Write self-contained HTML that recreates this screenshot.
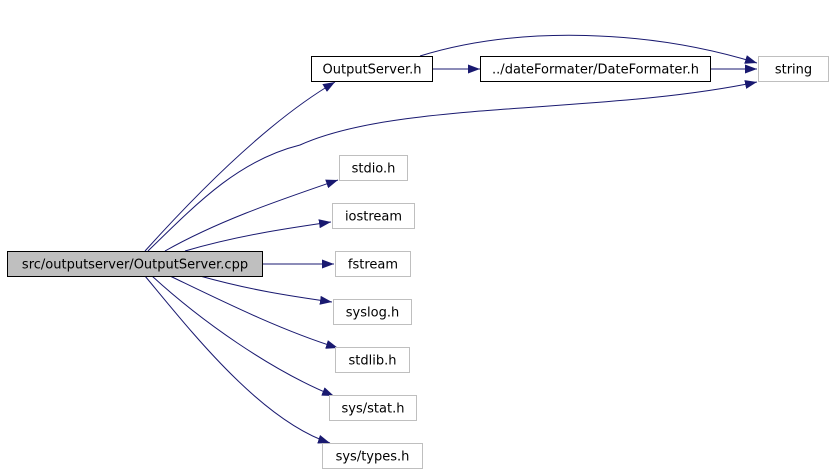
<!DOCTYPE html>
<html><head><meta charset="utf-8"><style>
html,body{margin:0;padding:0;background:#fff;}
svg{display:block;}
text{font-family:"DejaVu Sans","Liberation Sans",sans-serif;font-size:13px;fill:#000;}
</style></head><body>
<svg width="835" height="472" viewBox="0 0 835 472" xmlns="http://www.w3.org/2000/svg">
<defs>
<marker id="a" markerWidth="12" markerHeight="9" refX="12" refY="4.5" orient="auto" markerUnits="userSpaceOnUse">
<path d="M0,0 L12,4.5 L0,9 Z" fill="#191970"/>
</marker>
</defs>
<g fill="none" stroke="#191970" stroke-width="1" marker-end="url(#a)">
<path d="M145,251 C200,190 270,120 335,82"/>
<path d="M148,251 C200,200 240,160 300,145 C400,100 600,115 757,82"/>
<path d="M420,56 C520,25 650,30 757,63"/>
<path d="M432,69 L480,69"/>
<path d="M710,69 L757,69"/>
<path d="M165,251 C220,220 280,200 338,180"/>
<path d="M185,251 C240,235 290,228 331,222"/>
<path d="M262,264 L334,264"/>
<path d="M200,276 C250,290 290,296 332,302"/>
<path d="M170,276 C220,300 280,330 338,348"/>
<path d="M152,276 C200,320 270,370 334,396"/>
<path d="M145,276 C190,330 260,420 330,443"/>
</g>
<g stroke-width="1">
<rect x="7.5" y="251.5" width="255" height="25" fill="#bfbfbf" stroke="#000"/>
<rect x="311.5" y="56.5" width="121" height="25" fill="#fff" stroke="#000"/>
<rect x="480.5" y="56.5" width="230" height="25" fill="#fff" stroke="#000"/>
<rect x="758.5" y="56.5" width="70" height="25" fill="#fff" stroke="#bfbfbf"/>
<rect x="339.5" y="155.5" width="68" height="25" fill="#fff" stroke="#bfbfbf"/>
<rect x="332.5" y="203.5" width="82" height="25" fill="#fff" stroke="#bfbfbf"/>
<rect x="335.5" y="251.5" width="75" height="25" fill="#fff" stroke="#bfbfbf"/>
<rect x="333.5" y="299.5" width="78" height="25" fill="#fff" stroke="#bfbfbf"/>
<rect x="335.5" y="347.5" width="74" height="25" fill="#fff" stroke="#bfbfbf"/>
<rect x="329.5" y="395.5" width="87" height="25" fill="#fff" stroke="#bfbfbf"/>
<rect x="322.5" y="443.5" width="100" height="25" fill="#fff" stroke="#bfbfbf"/>
</g>
<g text-anchor="middle">
<text x="135" y="268.5">src/outputserver/OutputServer.cpp</text>
<text x="372" y="73.5">OutputServer.h</text>
<text x="595.5" y="73.5">../dateFormater/DateFormater.h</text>
<text x="793.5" y="73.5">string</text>
<text x="373.5" y="172.5">stdio.h</text>
<text x="373.5" y="220.5">iostream</text>
<text x="373" y="268.5">fstream</text>
<text x="372.5" y="316.5">syslog.h</text>
<text x="372.5" y="364.5">stdlib.h</text>
<text x="373" y="412.5">sys/stat.h</text>
<text x="372.5" y="460.5">sys/types.h</text>
</g>
</svg>
</body></html>
